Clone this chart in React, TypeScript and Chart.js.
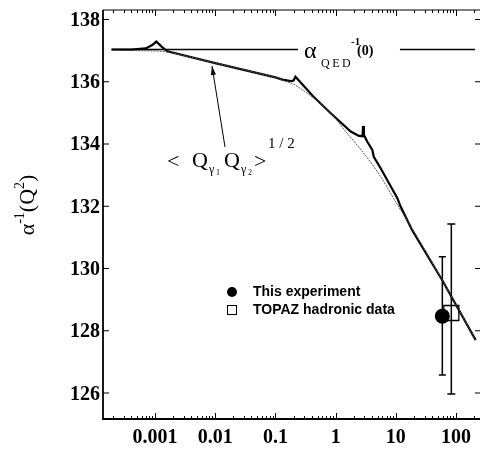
import React, { useEffect, useRef } from "react";
import { Chart, registerables } from "chart.js";

Chart.register(...registerables);

// ---- data ----
const thickQ = [1.9e-4, 4e-4, 7e-4, 9e-4, 1.05e-3, 1.3e-3, 1.6e-3, 0.01, 0.1, 0.13, 0.18, 0.2, 0.215, 0.43, 0.83, 1.78, 2.44, 2.8, 2.85, 2.95, 3.36, 4.07, 4.3, 5.6, 7.7, 10.6, 12, 18.6, 60, 212];
const thickAlpha = [137.036, 137.03, 137.07, 137.18, 137.29, 137.12, 136.98, 136.6, 136.14, 136.07, 136.02, 136.04, 136.16, 135.52, 134.99, 134.4, 134.26, 134.25, 134.58, 134.29, 134.07, 133.81, 133.59, 133.22, 132.74, 132.26, 131.99, 131.24, 129.6, 127.7];

const thinQ = [1.9e-4, 5e-4, 1.5e-3, 0.01, 0.1, 0.13, 0.2, 0.235, 0.43, 0.83, 1.5, 3, 5.6, 10.6, 16, 60, 212];
const thinAlpha = [137.036, 137.0, 136.96, 136.6, 136.14, 136.05, 135.92, 135.84, 135.48, 134.99, 134.38, 133.68, 132.95, 132.05, 131.5, 129.6, 127.7];

const qedValue = 137.036;
const qedLeftQ = [1.9e-4, 0.237];
const qedRightQ = [11.7, 207];

const expQ = [59.2];
const expAlpha = [128.47];
const expLow = [126.58];
const expHigh = [130.38];

const topazQ = [83.5];
const topazAlpha = [128.57];
const topazLow = [125.97];
const topazHigh = [131.43];

const xTickValues = [0.001, 0.01, 0.1, 1, 10, 100];
const xTickLabels = ["0.001", "0.01", "0.1", "1", "10", "100"];
const yTickValues = [126, 128, 130, 132, 134, 136, 138];
const yTickLabels = ["126", "128", "130", "132", "134", "136", "138"];

const legendLabels = ["This experiment", "TOPAZ hadronic data"];

const SERIF = "'Liberation Serif', 'Times New Roman', serif";
const SANS = "'Liberation Sans', Arial, sans-serif";

const zeroPad = (s: any) => {
  s.paddingLeft = 0;
  s.paddingRight = 0;
  s.paddingTop = 0;
  s.paddingBottom = 0;
};

const overlay = {
  id: "overlay",
  beforeDatasetsDraw(chart: any) {
    const ctx = chart.ctx;
    const xs = chart.scales.x;
    const ys = chart.scales.y;
    ctx.save();
    ctx.strokeStyle = "#000";
    ctx.lineWidth = 1.5;
    const bar = (q: number, lo: number, hi: number, cap: number) => {
      const px = xs.getPixelForValue(q);
      const pl = ys.getPixelForValue(lo);
      const ph = ys.getPixelForValue(hi);
      ctx.beginPath();
      ctx.moveTo(px, pl);
      ctx.lineTo(px, ph);
      ctx.moveTo(px - cap, pl);
      ctx.lineTo(px + cap, pl);
      ctx.moveTo(px - cap, ph);
      ctx.lineTo(px + cap, ph);
      ctx.stroke();
    };
    expQ.forEach((q, i) => bar(q, expLow[i], expHigh[i], 3.5));
    topazQ.forEach((q, i) => bar(q, topazLow[i], topazHigh[i], 4));
    ctx.restore();
  },
  afterDraw(chart: any) {
    const ctx = chart.ctx;
    const xs = chart.scales.x;
    const ys = chart.scales.y;
    const { left, right, top, bottom } = chart.chartArea;
    ctx.save();
    ctx.strokeStyle = "#000";
    ctx.fillStyle = "#000";
    // axes
    ctx.lineWidth = 1.8;
    ctx.beginPath();
    ctx.moveTo(left, top);
    ctx.lineTo(left, bottom + 1);
    ctx.stroke();
    ctx.lineWidth = 2;
    ctx.beginPath();
    ctx.moveTo(left, bottom);
    ctx.lineTo(right, bottom);
    ctx.stroke();
    ctx.lineWidth = 1.2;
    ctx.beginPath();
    ctx.moveTo(left, top);
    ctx.lineTo(right, top);
    ctx.stroke();
    // x ticks (log, inward, top & bottom)
    ctx.lineWidth = 1;
    ctx.beginPath();
    for (let e = -4; e <= 2; e++) {
      for (let m = 1; m <= 9; m++) {
        const v = Number((m * Math.pow(10, e)).toPrecision(3));
        if (v < xs.min || v > xs.max) continue;
        const px = Math.round(xs.getPixelForValue(v)) + 0.5;
        const len = m === 1 ? 6 : 3;
        ctx.moveTo(px, bottom);
        ctx.lineTo(px, bottom - len);
        ctx.moveTo(px, top);
        ctx.lineTo(px, top + len);
      }
    }
    ctx.stroke();
    // y ticks
    ctx.lineWidth = 1.2;
    ctx.beginPath();
    yTickValues.forEach((v) => {
      const py = ys.getPixelForValue(v);
      ctx.moveTo(left, py);
      ctx.lineTo(left + 6, py);
      ctx.moveTo(right, py);
      ctx.lineTo(right - 5, py);
    });
    ctx.stroke();

    // tick labels
    ctx.font = `bold 20px ${SERIF}`;
    ctx.textBaseline = "alphabetic";
    ctx.textAlign = "center";
    xTickValues.forEach((v, i) => {
      ctx.fillText(xTickLabels[i], xs.getPixelForValue(v), bottom + 24);
    });
    ctx.textAlign = "right";
    yTickValues.forEach((v, i) => {
      ctx.fillText(yTickLabels[i], left - 3, ys.getPixelForValue(v) + 6.5);
    });

    // y-axis title: α^-1(Q^2)
    const runs: [string, number, number][] = [
      ["α", 22, 0],
      ["-1", 14, -10],
      ["(Q", 22, 0],
      ["2", 14, -10],
      [")", 22, 0],
    ];
    let total = 0;
    runs.forEach(([t, s]) => {
      ctx.font = `${s}px ${SERIF}`;
      total += ctx.measureText(t).width;
    });
    ctx.save();
    ctx.translate(34, 205 + total / 2);
    ctx.rotate(-Math.PI / 2);
    ctx.textBaseline = "alphabetic";
    ctx.textAlign = "left";
    let cx = 0;
    runs.forEach(([t, s, dy]) => {
      ctx.font = `${s}px ${SERIF}`;
      ctx.fillText(t, cx, dy);
      cx += ctx.measureText(t).width;
    });
    ctx.restore();

    // alpha_QED^-1(0) label
    ctx.textAlign = "left";
    ctx.textBaseline = "alphabetic";
    ctx.font = `24px ${SERIF}`;
    ctx.fillText("α", 304, 58);
    ctx.font = `12px ${SERIF}`;
    let qx = 321;
    ["Q", "E", "D"].forEach((c) => {
      ctx.fillText(c, qx, 67);
      qx += ctx.measureText(c).width + 2.5;
    });
    ctx.font = `bold 11px ${SERIF}`;
    ctx.fillText("-1", 351, 45);
    ctx.font = `bold 14px ${SERIF}`;
    ctx.fillText("(0)", 357, 55);

    // <Q_γ1 Q_γ2>^1/2 label
    ctx.font = `22px ${SERIF}`;
    ctx.fillText("<", 167, 168);
    ctx.fillText("Q", 192, 167);
    ctx.fillText("Q", 224, 167);
    ctx.fillText(">", 254, 168);
    ctx.font = `12px ${SERIF}`;
    ctx.fillText("γ", 209, 173);
    ctx.fillText("γ", 241, 173);
    ctx.font = `8px ${SERIF}`;
    ctx.fillText("1", 216, 175);
    ctx.fillText("2", 248, 175);
    ctx.font = `15px ${SERIF}`;
    ctx.fillText("1 / 2", 268, 148);

    // arrow
    const ax0 = 225, ay0 = 147, ax1 = 212, ay1 = 66;
    ctx.lineWidth = 1;
    ctx.beginPath();
    ctx.moveTo(ax0, ay0);
    ctx.lineTo(ax1, ay1);
    ctx.stroke();
    const ang = Math.atan2(ay1 - ay0, ax1 - ax0);
    const hl = 9, hw = 2.6;
    const bx = ax1 - hl * Math.cos(ang), by = ay1 - hl * Math.sin(ang);
    ctx.beginPath();
    ctx.moveTo(ax1, ay1);
    ctx.lineTo(bx + hw * Math.sin(ang), by - hw * Math.cos(ang));
    ctx.lineTo(bx - hw * Math.sin(ang), by + hw * Math.cos(ang));
    ctx.closePath();
    ctx.fill();

    // legend
    ctx.beginPath();
    ctx.arc(232, 292, 5, 0, Math.PI * 2);
    ctx.fill();
    ctx.lineWidth = 1;
    ctx.strokeRect(227.5, 305.5, 9, 9);
    ctx.font = `bold 14px ${SANS}`;
    ctx.fillText(legendLabels[0], 253, 296);
    ctx.fillText(legendLabels[1], 253, 314);
    ctx.restore();
  },
};

export default function App() {
  const ref = useRef<HTMLCanvasElement | null>(null);
  useEffect(() => {
    if (!ref.current) return;
    const chart = new Chart(ref.current, {
      type: "line",
      data: {
        datasets: [
          {
            data: qedLeftQ.map((q) => ({ x: q, y: qedValue })),
            borderColor: "#000",
            borderWidth: 1.3,
            pointRadius: 0,
            fill: false,
          },
          {
            data: qedRightQ.map((q) => ({ x: q, y: qedValue })),
            borderColor: "#000",
            borderWidth: 1.3,
            pointRadius: 0,
            fill: false,
          },
          {
            data: thinQ.map((q, i) => ({ x: q, y: thinAlpha[i] })),
            borderColor: "#555",
            borderWidth: 1,
            borderDash: [2, 1],
            pointRadius: 0,
            tension: 0.3,
            fill: false,
          },
          {
            data: thickQ.map((q, i) => ({ x: q, y: thickAlpha[i] })),
            borderColor: "#000",
            borderWidth: 2.2,
            pointRadius: 0,
            tension: 0,
            fill: false,
          },
          {
            type: "scatter",
            label: legendLabels[0],
            data: expQ.map((q, i) => ({ x: q, y: expAlpha[i] })),
            backgroundColor: "#000",
            borderColor: "#000",
            pointStyle: "circle",
            pointRadius: 7.5,
            borderWidth: 0,
          } as any,
          {
            type: "scatter",
            label: legendLabels[1],
            data: topazQ.map((q, i) => ({ x: q, y: topazAlpha[i] })),
            backgroundColor: "rgba(0,0,0,0)",
            borderColor: "#000",
            pointStyle: "rect",
            pointRadius: 10.6,
            borderWidth: 1.3,
          } as any,
        ],
      },
      options: {
        responsive: false,
        animation: false,
        layout: { autoPadding: false, padding: { top: 10, right: 1, left: 0, bottom: 0 } },
        plugins: { legend: { display: false }, tooltip: { enabled: false } },
        scales: {
          x: {
            type: "logarithmic",
            min: 1.368e-4,
            max: 250,
            grid: { display: false, drawTicks: false },
            border: { display: false },
            afterFit: (s: any) => {
              s.height = 31;
              zeroPad(s);
            },
            afterBuildTicks: (s: any) => {
              s.ticks = xTickValues.map((v) => ({ value: v, major: true }));
            },
            ticks: { display: false },
          },
          y: {
            type: "linear",
            min: 125.165,
            max: 138.305,
            grid: { display: false, drawTicks: false },
            border: { display: false },
            afterFit: (s: any) => {
              s.width = 103;
              zeroPad(s);
            },
            afterBuildTicks: (s: any) => {
              s.ticks = yTickValues.map((v) => ({ value: v }));
            },
            ticks: { display: false },
          },
        },
      } as any,
      plugins: [overlay],
    });
    return () => chart.destroy();
  }, []);
  return (
    <div style={{ position: "absolute", left: 0, top: 0, width: 481, height: 450, background: "#fff" }}>
      <canvas ref={ref} width={481} height={450} style={{ display: "block" }} />
    </div>
  );
}
